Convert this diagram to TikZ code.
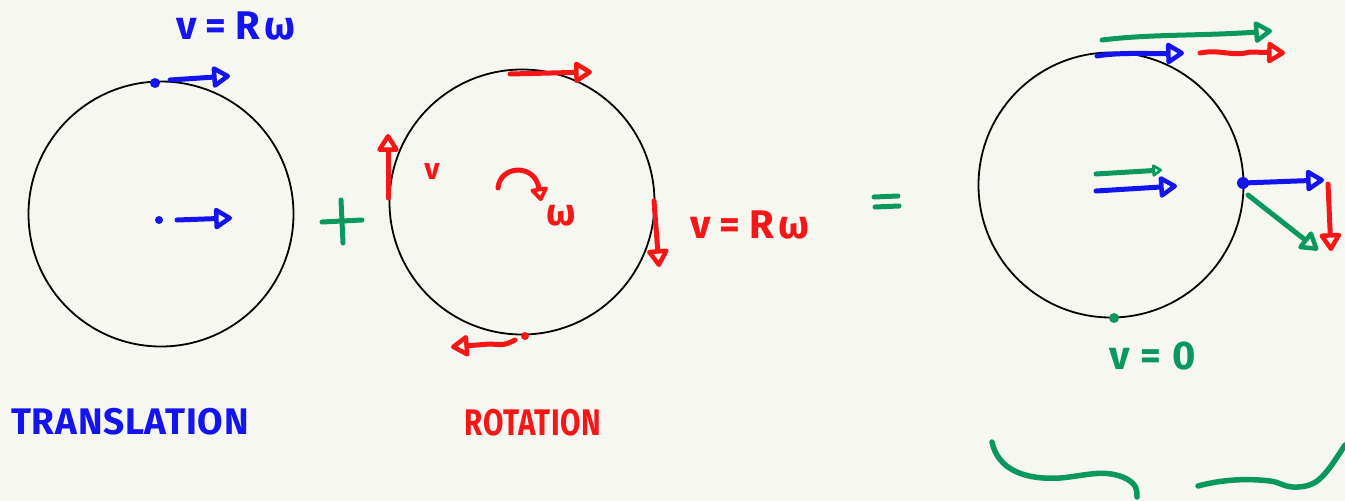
\documentclass[tikz,border=0pt]{standalone}
\usepackage{fontspec}
\setmainfont{Fira Sans}
\usetikzlibrary{arrows.meta}
\definecolor{bg}{RGB}{246,247,241}
\definecolor{pblue}{RGB}{20,20,238}
\definecolor{pred}{RGB}{246,22,22}
\definecolor{pgreen}{RGB}{10,152,92}
\tikzset{
  wheel/.style={draw=black, line width=1.8pt, circle, inner sep=0pt, minimum size=265pt},
  vec/.style={line width=5pt, line cap=round, line join=round,
    -{Triangle[open, length=20pt, width=24pt, line width=4.5pt, round]}},
  stroke/.style={line width=5pt, line cap=round, line join=round},
  spot/.style={circle, fill, inner sep=0pt, minimum size=10pt},
  hand/.style={inner sep=0pt, font=\fontsize{40}{42}\selectfont\bfseries},
  title/.style={inner sep=0pt, font=\fontsize{37}{40}\selectfont\bfseries\addfontfeature{LetterSpace=2}}
}
\begin{document}
\begin{tikzpicture}[x=1pt,y=-1pt]
\fill[bg] (0,0) rectangle (1345,501);
\useasboundingbox (0,0) rectangle (1345,501);

% ---------- translation ----------
\node[wheel] (c1) at (161,214) {};
\node[hand, text=pblue] (t1) at (236,26) {v\hspace{0.2em}=\hspace{0.25em}R\hspace{0.1em}ω};
\node[spot, fill=pblue] (p1) at (155,83) {};
\coordinate (a1s) at (170,80);
\coordinate (a1e) at (230,76);
\draw[vec, pblue] (a1s) -- (a1e);
\node[spot, fill=pblue, minimum size=8pt] (p2) at (159,220) {};
\coordinate (a2s) at (177,220);
\coordinate (a2e) at (232,218);
\draw[vec, pblue] (a2s) -- (a2e);
\node[title, text=pblue] (lt) at (130,422) {TRANSLATION};

% plus
\coordinate (pl1) at (322,222);
\coordinate (pl2) at (362,220);
\coordinate (pl3) at (341,200);
\coordinate (pl4) at (343,243);
\draw[stroke, pgreen] (pl1) -- (pl2);
\draw[stroke, pgreen] (pl3) -- (pl4);

% ---------- rotation ----------
\node[wheel] (c2) at (522,202) {};
\coordinate (r1s) at (510,74);
\coordinate (r1e) at (592,72);
\draw[vec, pred] (r1s) -- (r1e);
\coordinate (r2s) at (388,198);
\coordinate (r2e) at (388,134);
\draw[vec, pred] (r2s) -- (r2e);
\coordinate (r3s) at (654,201);
\coordinate (r3e) at (659,267);
\draw[vec, pred] (r3s) -- (r3e);
\node[spot, fill=pred, minimum size=8pt] (p3) at (525,336) {};
\coordinate (r4s) at (515,340);
\coordinate (r4e) at (451,347);
\draw[vec, pred] (r4s) .. controls (505,345) .. (490,344) -- (r4e);
\node[hand, text=pred, font=\fontsize{30}{32}\selectfont\bfseries] (tv) at (432,172) {v};
\coordinate (ws) at (498,188);
\coordinate (we) at (541,201);
\draw[vec, pred, -{Triangle[open, length=15pt, width=20pt, line width=4.5pt, round]}] (ws) .. controls (500,165) and (535,163) .. (we);
\node[hand, text=pred, font=\fontsize{38}{40}\selectfont\bfseries] (tw) at (561,216) {ω};
\node[hand, text=pred] (t2) at (750,225) {v\hspace{0.2em}=\hspace{0.25em}R\hspace{0.1em}ω};
\node[title, text=pred, xscale=0.8] (lr) at (533,423) {ROTATION};

% equals
\coordinate (e1) at (874,197);
\coordinate (e2) at (898,196);
\coordinate (e3) at (875,207);
\coordinate (e4) at (899,206);
\draw[stroke, pgreen] (e1) -- (e2);
\draw[stroke, pgreen] (e3) -- (e4);

% ---------- sum ----------
\node[wheel] (c3) at (1111,185) {};
\coordinate (g1s) at (1102,40);
\coordinate (g1e) at (1272,31);
\draw[vec, pgreen] (g1s) .. controls (1150,34) and (1200,36) .. (g1e);
\coordinate (b1s) at (1097,56);
\coordinate (b1e) at (1184,53);
\draw[vec, pblue] (b1s) .. controls (1120,52) and (1150,54) .. (b1e);
\coordinate (rs) at (1200,53);
\coordinate (re) at (1285,53);
\draw[vec, pred] (rs) .. controls (1220,49) and (1232,57) .. (1250,52) -- (re);
\coordinate (g2s) at (1096,174);
\coordinate (g2e) at (1162,170);
\draw[vec, pgreen, -{Triangle[open, length=11pt, width=14pt, line width=4.5pt, round]}] (g2s) -- (g2e);
\coordinate (b2s) at (1096,191);
\coordinate (b2e) at (1177,186);
\draw[vec, pblue] (b2s) -- (b2e);
\node[spot, fill=pblue, minimum size=12pt] (p4) at (1243,183) {};
\coordinate (b3e) at (1324,180);
\draw[vec, pblue] (p4.center) -- (b3e);
\coordinate (r5s) at (1328,184);
\coordinate (r5e) at (1331,251);
\draw[vec, pred] (r5s) -- (r5e);
\coordinate (g3s) at (1248,195);
\coordinate (g3e) at (1318,250);
\draw[vec, pgreen] (g3s) -- (g3e);
\node[spot, fill=pgreen, minimum size=10pt] (p5) at (1114,318) {};
\node[hand, text=pgreen] (t3) at (1153,356) {v\hspace{0.25em}=\hspace{0.3em}0};

% brace strokes
\draw[stroke, pgreen, line width=5.5pt] (992,442) .. controls (998,470) and (1025,480) .. (1060,478)
  .. controls (1085,476) and (1105,468) .. (1127,479) .. controls (1137,485) and (1137,490) .. (1137,497);
\draw[stroke, pgreen, line width=5.5pt] (1198,486) .. controls (1220,480) and (1245,478) .. (1270,481)
  .. controls (1280,482) and (1285,488) .. (1298,487) .. controls (1318,486) and (1325,476) .. (1345,445);
\end{tikzpicture}
\end{document}
